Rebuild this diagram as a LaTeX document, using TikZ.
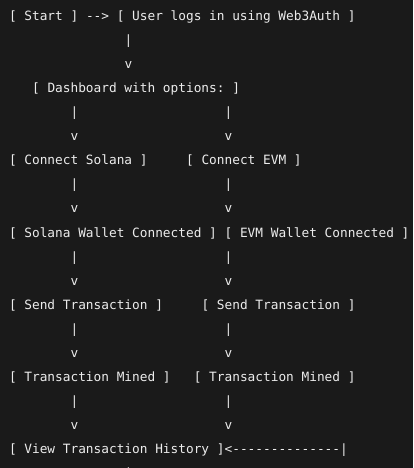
\documentclass[tikz,border=0pt]{standalone}
\usepackage{fontspec}
\setmonofont{DejaVu Sans Mono}
\definecolor{bg}{RGB}{26,26,26}
\definecolor{fg}{RGB}{236,236,236}
\tikzset{
  txt/.style={anchor=base west, inner sep=0pt, outer sep=0pt, text=fg,
    font=\ttfamily\fontsize{12.79bp}{15bp}\selectfont}
}
% #1 name, #2 column, #3 line, #4 text
\newcommand\asciitxt[4]{\node[txt] (#1) at ({9+#2*7.7},{21+24*#3}) {#4};}
\begin{document}
\begin{tikzpicture}[x=1bp,y=-1bp]
\fill[bg] (0,0) rectangle (413,468);
\useasboundingbox (0,0) rectangle (413,468);
% line 0
\asciitxt{start}{0}{0}{[ Start ]}
\asciitxt{a0}{10}{0}{-->}
\asciitxt{user}{14}{0}{[ User logs in using Web3Auth ]}
\asciitxt{p1}{15}{1}{|}
\asciitxt{v1}{15}{2}{v}
\asciitxt{dash}{3}{3}{[ Dashboard with options: ]}
\asciitxt{p2l}{8}{4}{|}
\asciitxt{p2r}{28}{4}{|}
\asciitxt{v2l}{8}{5}{v}
\asciitxt{v2r}{28}{5}{v}
\asciitxt{cs}{0}{6}{[ Connect Solana ]}
\asciitxt{ce}{23}{6}{[ Connect EVM ]}
\asciitxt{p3l}{8}{7}{|}
\asciitxt{p3r}{28}{7}{|}
\asciitxt{v3l}{8}{8}{v}
\asciitxt{v3r}{28}{8}{v}
\asciitxt{sw}{0}{9}{[ Solana Wallet Connected ]}
\asciitxt{ew}{28}{9}{[ EVM Wallet Connected ]}
\asciitxt{p4l}{8}{10}{|}
\asciitxt{p4r}{28}{10}{|}
\asciitxt{v4l}{8}{11}{v}
\asciitxt{v4r}{28}{11}{v}
\asciitxt{st1}{0}{12}{[ Send Transaction ]}
\asciitxt{st2}{25}{12}{[ Send Transaction ]}
\asciitxt{p5l}{8}{13}{|}
\asciitxt{p5r}{28}{13}{|}
\asciitxt{v5l}{8}{14}{v}
\asciitxt{v5r}{28}{14}{v}
\asciitxt{tm1}{0}{15}{[ Transaction Mined ]}
\asciitxt{tm2}{24}{15}{[ Transaction Mined ]}
\asciitxt{p6l}{8}{16}{|}
\asciitxt{p6r}{28}{16}{|}
\asciitxt{v6l}{8}{17}{v}
\asciitxt{v6r}{28}{17}{v}
\asciitxt{view}{0}{18}{[ View Transaction History ]}
\asciitxt{back}{28}{18}{<--------------|}
\asciitxt{p7}{15}{19}{|}
\end{tikzpicture}
\end{document}
